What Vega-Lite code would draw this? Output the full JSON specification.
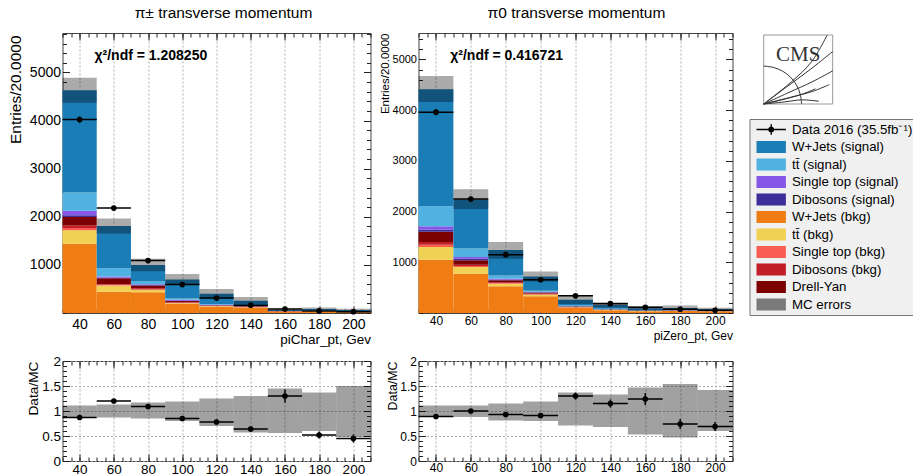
{
"$schema":"https://vega.github.io/schema/vega-lite/v6.json",
"padding":{"left":7.5,"top":5,"right":0,"bottom":0},
"background":"white",
"config":{
 "font":"Liberation Sans",
 "view":{"stroke":"#444","strokeWidth":1},
 "axis":{"domain":false,"tickColor":"#222","tickSize":-7,"labelColor":"#000","titleColor":"#000","titleFontWeight":"normal","gridColor":"#999","gridDash":[2,2],"gridWidth":0.8,"labelFlush":false,"labelOverlap":false,"labelFont":"Liberation Sans","titleFont":"Liberation Sans"},
 "legend":{"orient":"none","legendX":687,"legendY":86,"symbolSize":196,"labelFontSize":13.3,"labelFont":"Liberation Sans","labelColor":"#000","rowPadding":3.5,"padding":3.5,"fillColor":"#f0f0f0","strokeColor":"#777","labelLimit":300,"labelOffset":25,"symbolStrokeWidth":0,"symbolOpacity":1}
},
"datasets":{
 "procs":[{"k":"wjb","proc":"W+Jets (bkg)","ord":1},{"k":"ttb","proc":"tt\u0304 (bkg)","ord":2},{"k":"stb","proc":"Single top (bkg)","ord":3},{"k":"dibb","proc":"Dibosons (bkg)","ord":4},{"k":"dy","proc":"Drell-Yan","ord":5},{"k":"dibs","proc":"Dibosons (signal)","ord":6},{"k":"sts","proc":"Single top (signal)","ord":7},{"k":"tts","proc":"tt\u0304 (signal)","ord":8},{"k":"wjs","proc":"W+Jets (signal)","ord":9}],
 "mcL":[
  {"lo":30,"hi":50,"wjb":1440,"ttb":278,"stb":50,"dibb":55,"dy":175,"dibs":35,"sts":90,"tts":382,"wjs":2127},
  {"lo":50,"hi":70,"wjb":440,"ttb":130,"stb":15,"dibb":20,"dy":115,"dibs":15,"sts":25,"tts":170,"wjs":880},
  {"lo":70,"hi":90,"wjb":430,"ttb":50,"stb":15,"dibb":20,"dy":55,"dibs":10,"sts":20,"tts":55,"wjs":345},
  {"lo":90,"hi":110,"wjb":190,"ttb":15,"stb":10,"dibb":10,"dy":25,"dibs":10,"sts":15,"tts":25,"wjs":395},
  {"lo":110,"hi":130,"wjb":130,"ttb":10,"stb":5,"dibb":5,"dy":10,"dibs":3,"sts":7,"tts":10,"wjs":220},
  {"lo":130,"hi":150,"wjb":110,"ttb":8,"stb":4,"dibb":5,"dy":12,"dibs":2,"sts":4,"tts":10,"wjs":100},
  {"lo":150,"hi":170,"wjb":30,"ttb":3,"stb":1,"dibb":2,"dy":3,"dibs":1,"sts":1,"tts":3,"wjs":20},
  {"lo":170,"hi":190,"wjb":35,"ttb":4,"stb":2,"dibb":2,"dy":4,"dibs":1,"sts":2,"tts":5,"wjs":30},
  {"lo":190,"hi":210,"wjb":28,"ttb":3,"stb":1,"dibb":2,"dy":3,"dibs":1,"sts":1,"tts":3,"wjs":20}
 ],
 "mcR":[
  {"lo":30,"hi":50,"wjb":1050,"ttb":250,"stb":45,"dibb":55,"dy":200,"dibs":40,"sts":70,"tts":395,"wjs":2305},
  {"lo":50,"hi":70,"wjb":775,"ttb":130,"stb":20,"dibb":25,"dy":90,"dibs":30,"sts":35,"tts":165,"wjs":970},
  {"lo":70,"hi":90,"wjb":525,"ttb":50,"stb":15,"dibb":15,"dy":40,"dibs":15,"sts":20,"tts":60,"wjs":500},
  {"lo":90,"hi":110,"wjb":330,"ttb":30,"stb":10,"dibb":15,"dy":20,"dibs":5,"sts":10,"tts":20,"wjs":280},
  {"lo":110,"hi":130,"wjb":100,"ttb":10,"stb":5,"dibb":5,"dy":8,"dibs":3,"sts":4,"tts":15,"wjs":110},
  {"lo":130,"hi":150,"wjb":55,"ttb":5,"stb":2,"dibb":3,"dy":5,"dibs":2,"sts":3,"tts":10,"wjs":75},
  {"lo":150,"hi":170,"wjb":35,"ttb":3,"stb":1,"dibb":2,"dy":3,"dibs":1,"sts":2,"tts":5,"wjs":40},
  {"lo":170,"hi":190,"wjb":40,"ttb":3,"stb":2,"dibb":2,"dy":3,"dibs":1,"sts":2,"tts":5,"wjs":42},
  {"lo":190,"hi":210,"wjb":30,"ttb":3,"stb":1,"dibb":1,"dy":3,"dibs":1,"sts":1,"tts":4,"wjs":31}
 ],
 "ptsL":[
  {"lo":30,"hi":50,"c":40,"n":4020,"nlo":3957,"nhi":4083,"mclo":4370,"mchi":4890,"r":0.87,"rlo":0.855,"rhi":0.885,"blo":0.88,"bhi":1.11},
  {"lo":50,"hi":70,"c":60,"n":2180,"nlo":2133,"nhi":2227,"mclo":1650,"mchi":1965,"r":1.2,"rlo":1.17,"rhi":1.23,"blo":0.87,"bhi":1.13},
  {"lo":70,"hi":90,"c":80,"n":1090,"nlo":1057,"nhi":1123,"mclo":870,"mchi":1130,"r":1.09,"rlo":1.055,"rhi":1.125,"blo":0.85,"bhi":1.17},
  {"lo":90,"hi":110,"c":100,"n":590,"nlo":566,"nhi":614,"mclo":580,"mchi":810,"r":0.85,"rlo":0.815,"rhi":0.885,"blo":0.8,"bhi":1.19},
  {"lo":110,"hi":130,"c":120,"n":310,"nlo":292,"nhi":328,"mclo":300,"mchi":500,"r":0.78,"rlo":0.735,"rhi":0.825,"blo":0.7,"bhi":1.25},
  {"lo":130,"hi":150,"c":140,"n":163,"nlo":150,"nhi":176,"mclo":180,"mchi":330,"r":0.64,"rlo":0.59,"rhi":0.69,"blo":0.57,"bhi":1.3},
  {"lo":150,"hi":170,"c":160,"n":83,"nlo":74,"nhi":92,"mclo":40,"mchi":90,"r":1.3,"rlo":1.17,"rhi":1.43,"blo":0.56,"bhi":1.45},
  {"lo":170,"hi":190,"c":180,"n":44,"nlo":38,"nhi":50,"mclo":55,"mchi":115,"r":0.52,"rlo":0.45,"rhi":0.59,"blo":0.6,"bhi":1.37},
  {"lo":190,"hi":210,"c":200,"n":28,"nlo":23,"nhi":33,"mclo":35,"mchi":90,"r":0.45,"rlo":0.37,"rhi":0.53,"blo":0.48,"bhi":1.5}
 ],
 "ptsR":[
  {"lo":30,"hi":50,"c":40,"n":3960,"nlo":3897,"nhi":4023,"mclo":4160,"mchi":4670,"r":0.89,"rlo":0.875,"rhi":0.905,"blo":0.88,"bhi":1.11},
  {"lo":50,"hi":70,"c":60,"n":2245,"nlo":2198,"nhi":2292,"mclo":2050,"mchi":2440,"r":1.0,"rlo":0.975,"rhi":1.025,"blo":0.88,"bhi":1.11},
  {"lo":70,"hi":90,"c":80,"n":1150,"nlo":1116,"nhi":1184,"mclo":1070,"mchi":1400,"r":0.93,"rlo":0.9,"rhi":0.96,"blo":0.81,"bhi":1.15},
  {"lo":90,"hi":110,"c":100,"n":655,"nlo":630,"nhi":680,"mclo":620,"mchi":820,"r":0.91,"rlo":0.875,"rhi":0.945,"blo":0.8,"bhi":1.19},
  {"lo":110,"hi":130,"c":120,"n":338,"nlo":320,"nhi":356,"mclo":175,"mchi":345,"r":1.3,"rlo":1.23,"rhi":1.37,"blo":0.71,"bhi":1.37},
  {"lo":130,"hi":150,"c":140,"n":184,"nlo":170,"nhi":198,"mclo":110,"mchi":210,"r":1.15,"rlo":1.07,"rhi":1.23,"blo":0.68,"bhi":1.33},
  {"lo":150,"hi":170,"c":160,"n":114,"nlo":103,"nhi":125,"mclo":50,"mchi":135,"r":1.24,"rlo":1.12,"rhi":1.36,"blo":0.53,"bhi":1.47},
  {"lo":170,"hi":190,"c":180,"n":74,"nlo":65,"nhi":83,"mclo":50,"mchi":150,"r":0.74,"rlo":0.64,"rhi":0.84,"blo":0.47,"bhi":1.54},
  {"lo":190,"hi":210,"c":200,"n":52,"nlo":45,"nhi":59,"mclo":45,"mchi":105,"r":0.69,"rlo":0.6,"rhi":0.78,"blo":0.6,"bhi":1.42}
 ],
 "chiL":[{"x":48.7,"y":5342,"t":"\u03c7\u00b2/ndf = 1.208250"}],
 "chiR":[{"x":48.2,"y":5073,"t":"\u03c7\u00b2/ndf = 0.416721"}],
 "logoBox":[{"x0":0,"x1":100,"y0":0,"y1":100}],
 "logoText":[{"x":50,"y":71,"t":"CMS"}],
 "logoTracks":[
  {"t":1,"i":0,"x":0,"y":0},{"t":1,"i":1,"x":35,"y":26},{"t":1,"i":2,"x":70,"y":52},{"t":1,"i":3,"x":100,"y":76},
  {"t":2,"i":0,"x":0,"y":0},{"t":2,"i":1,"x":35,"y":16},{"t":2,"i":2,"x":70,"y":32},{"t":2,"i":3,"x":100,"y":48},
  {"t":3,"i":0,"x":0,"y":0},{"t":3,"i":1,"x":40,"y":10},{"t":3,"i":2,"x":70,"y":18},{"t":3,"i":3,"x":95,"y":28},
  {"t":4,"i":0,"x":0,"y":0},{"t":4,"i":1,"x":30,"y":7},{"t":4,"i":2,"x":55,"y":14},{"t":4,"i":3,"x":75,"y":22},
  {"t":5,"i":0,"x":0,"y":0},{"t":5,"i":1,"x":30,"y":3},{"t":5,"i":2,"x":55,"y":6},{"t":5,"i":3,"x":80,"y":4},
  {"t":6,"i":0,"x":0,"y":0},{"t":6,"i":1,"x":40,"y":32},{"t":6,"i":2,"x":70,"y":62},{"t":6,"i":3,"x":92,"y":100},
  {"t":7,"i":0,"x":0,"y":55},{"t":7,"i":1,"x":14,"y":53},{"t":7,"i":2,"x":27.5,"y":47.6},{"t":7,"i":3,"x":38.9,"y":38.9},{"t":7,"i":4,"x":47.6,"y":27.5},{"t":7,"i":5,"x":53,"y":14},{"t":7,"i":6,"x":55,"y":0}
 ]
},
"columns":2,
"spacing":{"row":48,"column":48},
"bounds":"flush",
"concat":[
  {"width":308,"height":280,
   "title":{"text":"\u03c0\u00b1 transverse momentum","fontSize":15.5,"fontWeight":"normal","font":"Liberation Sans","color":"#000","anchor":"middle","frame":"group","offset":11,"dx":7},
   "resolve":{"axis":{"x":"independent","y":"independent"}},
   "layer":[
    {"layer":[
    {"data":{"name":"mcL"},
     "transform":[{"fold":["wjb","ttb","stb","dibb","dy","dibs","sts","tts","wjs"],"as":["k","n"]},{"lookup":"k","from":{"data":{"name":"procs"},"key":"k","fields":["proc","ord"]}},{"stack":"n","groupby":["lo"],"sort":[{"field":"ord","order":"ascending"}],"as":["y0","y1"]}],
     "mark":{"type":"rect"},
     "encoding":{
      "x":{"field":"lo","type":"quantitative","title":"piChar_pt, Gev","scale":{"domain":[30,210],"nice":false,"zero":false},"axis":{"values":[40,60,80,100,120,140,160,180,200],"tickCount":100,"labelOverlap":false,"labelFontSize":14,"labelPadding":11,"grid":true,"titleFontSize":13.5,"titleAnchor":"end","titleAlign":"right","titleX":308,"titleY":26,"titleBaseline":"middle"}},
      "x2":{"field":"hi"},
      "y":{"field":"y0","type":"quantitative","title":"Entries/20.0000","scale":{"domain":[0,5820],"nice":false,"zero":false},"axis":{"values":[1000,2000,3000,4000,5000],"tickCount":100,"format":"d","labelOverlap":false,"labelFontSize":14,"labelPadding":9,"grid":false,"titleFontSize":15.5,"titleAngle":270,"titleX":-39,"titleY":2,"titleAlign":"right","titleBaseline":"bottom"}},
      "y2":{"field":"y1"},
      "fill":{"field":"proc","type":"nominal","scale":{"domain":["Data 2016 (35.5fb\u207b\u00b9)","W+Jets (signal)","tt\u0304 (signal)","Single top (signal)","Dibosons (signal)","W+Jets (bkg)","tt\u0304 (bkg)","Single top (bkg)","Dibosons (bkg)","Drell-Yan","MC errors"],"range":["#000000","#1a7db6","#50b2e0","#8656e6","#3d2f9a","#ef7d14","#f0d153","#fa5e52","#c01e28","#7c0000","#7a7a7a"]},"legend":{"title":null}}
     }},
    {"data":{"name":"ptsL"},"mark":{"type":"rect","color":"#000","opacity":0.33},
     "encoding":{"x":{"field":"lo","type":"quantitative","title":"piChar_pt, Gev"},"x2":{"field":"hi"},"y":{"field":"mclo","type":"quantitative","title":"Entries/20.0000"},"y2":{"field":"mchi"}}},
    {"data":{"name":"ptsL"},"mark":{"type":"rule","color":"#000","strokeWidth":1.5},
     "encoding":{"x":{"field":"c","type":"quantitative","title":"piChar_pt, Gev"},"y":{"field":"nlo","type":"quantitative","title":"Entries/20.0000"},"y2":{"field":"nhi"}}},
    {"data":{"name":"ptsL"},"mark":{"type":"rule","color":"#000","strokeWidth":1.5},
     "encoding":{"x":{"field":"lo","type":"quantitative","title":"piChar_pt, Gev"},"x2":{"field":"hi"},"y":{"field":"n","type":"quantitative","title":"Entries/20.0000"}}},
    {"data":{"name":"ptsL"},"mark":{"type":"circle","color":"#000","opacity":1,"size":32},
     "encoding":{"x":{"field":"c","type":"quantitative","title":"piChar_pt, Gev"},"y":{"field":"n","type":"quantitative","title":"Entries/20.0000"}}},
    {"data":{"name":"chiL"},"mark":{"type":"text","align":"left","baseline":"middle","fontSize":14,"fontWeight":"bold","font":"Liberation Sans","color":"#000"},
     "encoding":{"x":{"field":"x","type":"quantitative","title":"piChar_pt, Gev"},"y":{"field":"y","type":"quantitative","title":"Entries/20.0000"},"text":{"field":"t"}}}
    ]},
    {"data":{"name":"ptsL"},"mark":{"type":"point","opacity":0},
     "encoding":{"x":{"field":"c","type":"quantitative","axis":{"orient":"top","values":[40,60,80,100,120,140,160,180,200],"tickCount":100,"labels":false,"grid":false,"title":null,"tickSize":-7}},
                 "y":{"field":"n","type":"quantitative","axis":{"orient":"right","values":[1000,2000,3000,4000,5000],"tickCount":100,"labels":false,"grid":false,"title":null,"tickSize":-7}}}},
    {"data":{"name":"ptsL"},"mark":{"type":"point","opacity":0},
     "encoding":{"x":{"field":"c","type":"quantitative","axis":{"orient":"bottom","values":[30,35,40,45,50,55,60,65,70,75,80,85,90,95,100,105,110,115,120,125,130,135,140,145,150,155,160,165,170,175,180,185,190,195,200,205,210],"tickCount":100,"labels":false,"grid":false,"title":null,"tickSize":-4}},
                 "y":{"field":"n","type":"quantitative","axis":{"orient":"left","values":[0,200,400,600,800,1000,1200,1400,1600,1800,2000,2200,2400,2600,2800,3000,3200,3400,3600,3800,4000,4200,4400,4600,4800,5000,5200,5400,5600,5800],"tickCount":100,"labels":false,"grid":false,"title":null,"tickSize":-4}}}},
    {"data":{"name":"ptsL"},"mark":{"type":"point","opacity":0},
     "encoding":{"x":{"field":"c","type":"quantitative","axis":{"orient":"top","values":[30,35,40,45,50,55,60,65,70,75,80,85,90,95,100,105,110,115,120,125,130,135,140,145,150,155,160,165,170,175,180,185,190,195,200,205,210],"tickCount":100,"labels":false,"grid":false,"title":null,"tickSize":-4}},
                 "y":{"field":"n","type":"quantitative","axis":{"orient":"right","values":[0,200,400,600,800,1000,1200,1400,1600,1800,2000,2200,2400,2600,2800,3000,3200,3400,3600,3800,4000,4200,4400,4600,4800,5000,5200,5400,5600,5800],"tickCount":100,"labels":false,"grid":false,"title":null,"tickSize":-4}}}}
   ]},
  {"width":314,"height":280,
   "title":{"text":"\u03c00 transverse momentum","fontSize":15.5,"fontWeight":"normal","font":"Liberation Sans","color":"#000","anchor":"middle","frame":"group","offset":11,"dx":1},
   "resolve":{"scale":{"x":"independent","y":"independent"}},
   "layer":[
    {"resolve":{"axis":{"x":"independent","y":"independent"}},
     "layer":[
     {"layer":[
     {"data":{"name":"mcR"},
      "transform":[{"fold":["wjb","ttb","stb","dibb","dy","dibs","sts","tts","wjs"],"as":["k","n"]},{"lookup":"k","from":{"data":{"name":"procs"},"key":"k","fields":["proc","ord"]}},{"stack":"n","groupby":["lo"],"sort":[{"field":"ord","order":"ascending"}],"as":["y0","y1"]}],
      "mark":{"type":"rect"},
      "encoding":{
       "x":{"field":"lo","type":"quantitative","title":"piZero_pt, Gev","scale":{"domain":[30,210],"nice":false,"zero":false},"axis":{"values":[40,60,80,100,120,140,160,180,200],"tickCount":100,"labelOverlap":false,"labelFontSize":12,"labelPadding":9.5,"grid":true,"titleFontSize":12,"titleAnchor":"end","titleAlign":"right","titleX":314,"titleY":22.5,"titleBaseline":"middle"}},
       "x2":{"field":"hi"},
       "y":{"field":"y0","type":"quantitative","title":"Entries/20.0000","scale":{"domain":[0,5520],"nice":false,"zero":false},"axis":{"values":[1000,2000,3000,4000,5000],"tickCount":100,"format":"d","labelOverlap":false,"labelFontSize":11,"labelPadding":9,"grid":false,"titleFontSize":11.5,"titleAngle":270,"titleX":-28.5,"titleY":0,"titleAlign":"right","titleBaseline":"bottom"}},
       "y2":{"field":"y1"},
       "fill":{"field":"proc","type":"nominal","scale":{"domain":["Data 2016 (35.5fb\u207b\u00b9)","W+Jets (signal)","tt\u0304 (signal)","Single top (signal)","Dibosons (signal)","W+Jets (bkg)","tt\u0304 (bkg)","Single top (bkg)","Dibosons (bkg)","Drell-Yan","MC errors"],"range":["#000000","#1a7db6","#50b2e0","#8656e6","#3d2f9a","#ef7d14","#f0d153","#fa5e52","#c01e28","#7c0000","#7a7a7a"]},"legend":{"title":null}}
      }},
     {"data":{"name":"procs"},"mark":{"type":"point","filled":true,"size":196,"clip":true,"opacity":1},
      "encoding":{
       "x":{"datum":30,"type":"quantitative"},
       "y":{"datum":-3000,"type":"quantitative"},
       "shape":{"field":"proc","type":"nominal","scale":{"domain":["Data 2016 (35.5fb\u207b\u00b9)","W+Jets (signal)","tt\u0304 (signal)","Single top (signal)","Dibosons (signal)","W+Jets (bkg)","tt\u0304 (bkg)","Single top (bkg)","Dibosons (bkg)","Drell-Yan","MC errors"],"range":["M-0.5,-0.1H1.17V0.1H-0.5Z M2.03,-0.1H3.7V0.1H2.03Z M1.17,0A0.43,0.43 0 1,1 2.03,0A0.43,0.43 0 1,1 1.17,0Z M1.5,-0.75H1.7V-0.43H1.5Z M1.5,0.43H1.7V0.75H1.5Z","M-0.5,-0.86H3.7V0.86H-0.5Z","M-0.5,-0.86H3.7V0.86H-0.5Z","M-0.5,-0.86H3.7V0.86H-0.5Z","M-0.5,-0.86H3.7V0.86H-0.5Z","M-0.5,-0.86H3.7V0.86H-0.5Z","M-0.5,-0.86H3.7V0.86H-0.5Z","M-0.5,-0.86H3.7V0.86H-0.5Z","M-0.5,-0.86H3.7V0.86H-0.5Z","M-0.5,-0.86H3.7V0.86H-0.5Z","M-0.5,-0.86H3.7V0.86H-0.5Z"]},"legend":{"title":null}},
       "fill":{"field":"proc","type":"nominal","scale":{"domain":["Data 2016 (35.5fb\u207b\u00b9)","W+Jets (signal)","tt\u0304 (signal)","Single top (signal)","Dibosons (signal)","W+Jets (bkg)","tt\u0304 (bkg)","Single top (bkg)","Dibosons (bkg)","Drell-Yan","MC errors"],"range":["#000000","#1a7db6","#50b2e0","#8656e6","#3d2f9a","#ef7d14","#f0d153","#fa5e52","#c01e28","#7c0000","#7a7a7a"]},"legend":{"title":null}}
      }},
     {"data":{"name":"ptsR"},"mark":{"type":"rect","color":"#000","opacity":0.33},
      "encoding":{"x":{"field":"lo","type":"quantitative","title":"piZero_pt, Gev"},"x2":{"field":"hi"},"y":{"field":"mclo","type":"quantitative","title":"Entries/20.0000"},"y2":{"field":"mchi"}}},
     {"data":{"name":"ptsR"},"mark":{"type":"rule","color":"#000","strokeWidth":1.5},
      "encoding":{"x":{"field":"c","type":"quantitative","title":"piZero_pt, Gev"},"y":{"field":"nlo","type":"quantitative","title":"Entries/20.0000"},"y2":{"field":"nhi"}}},
     {"data":{"name":"ptsR"},"mark":{"type":"rule","color":"#000","strokeWidth":1.5},
      "encoding":{"x":{"field":"lo","type":"quantitative","title":"piZero_pt, Gev"},"x2":{"field":"hi"},"y":{"field":"n","type":"quantitative","title":"Entries/20.0000"}}},
     {"data":{"name":"ptsR"},"mark":{"type":"circle","color":"#000","opacity":1,"size":32},
      "encoding":{"x":{"field":"c","type":"quantitative","title":"piZero_pt, Gev"},"y":{"field":"n","type":"quantitative","title":"Entries/20.0000"}}},
     {"data":{"name":"chiR"},"mark":{"type":"text","align":"left","baseline":"middle","fontSize":14,"fontWeight":"bold","font":"Liberation Sans","color":"#000"},
      "encoding":{"x":{"field":"x","type":"quantitative","title":"piZero_pt, Gev"},"y":{"field":"y","type":"quantitative","title":"Entries/20.0000"},"text":{"field":"t"}}}
     ]},
     {"data":{"name":"ptsR"},"mark":{"type":"point","opacity":0},
      "encoding":{"x":{"field":"c","type":"quantitative","axis":{"orient":"top","values":[40,60,80,100,120,140,160,180,200],"tickCount":100,"labels":false,"grid":false,"title":null,"tickSize":-7}},
                  "y":{"field":"n","type":"quantitative","axis":{"orient":"right","values":[1000,2000,3000,4000,5000],"tickCount":100,"labels":false,"grid":false,"title":null,"tickSize":-7}}}},
     {"data":{"name":"ptsR"},"mark":{"type":"point","opacity":0},
      "encoding":{"x":{"field":"c","type":"quantitative","axis":{"orient":"bottom","values":[30,35,40,45,50,55,60,65,70,75,80,85,90,95,100,105,110,115,120,125,130,135,140,145,150,155,160,165,170,175,180,185,190,195,200,205,210],"tickCount":100,"labels":false,"grid":false,"title":null,"tickSize":-4}},
                  "y":{"field":"n","type":"quantitative","axis":{"orient":"left","values":[0,200,400,600,800,1000,1200,1400,1600,1800,2000,2200,2400,2600,2800,3000,3200,3400,3600,3800,4000,4200,4400,4600,4800,5000,5200,5400],"tickCount":100,"labels":false,"grid":false,"title":null,"tickSize":-4}}}},
     {"data":{"name":"ptsR"},"mark":{"type":"point","opacity":0},
      "encoding":{"x":{"field":"c","type":"quantitative","axis":{"orient":"top","values":[30,35,40,45,50,55,60,65,70,75,80,85,90,95,100,105,110,115,120,125,130,135,140,145,150,155,160,165,170,175,180,185,190,195,200,205,210],"tickCount":100,"labels":false,"grid":false,"title":null,"tickSize":-4}},
                  "y":{"field":"n","type":"quantitative","axis":{"orient":"right","values":[0,200,400,600,800,1000,1200,1400,1600,1800,2000,2200,2400,2600,2800,3000,3200,3400,3600,3800,4000,4200,4400,4600,4800,5000,5200,5400],"tickCount":100,"labels":false,"grid":false,"title":null,"tickSize":-4}}}}
    ]},
    {"layer":[
     {"data":{"name":"logoBox"},"mark":{"type":"rect","fill":"#ffffff","stroke":"#999","strokeWidth":1,"clip":false},
      "encoding":{"x":{"field":"x0","type":"quantitative","scale":{"domain":[-500.3,-45.2],"nice":false,"zero":false},"axis":null},"x2":{"field":"x1"},"y":{"field":"y0","type":"quantitative","scale":{"domain":[-302.9,102.9],"nice":false,"zero":false},"axis":null},"y2":{"field":"y1"}}},
     {"data":{"name":"logoTracks"},"mark":{"type":"line","color":"#333","strokeWidth":1,"interpolate":"cardinal","clip":false},
      "encoding":{"x":{"field":"x","type":"quantitative","scale":{"domain":[-500.3,-45.2],"nice":false,"zero":false},"axis":null},"y":{"field":"y","type":"quantitative","scale":{"domain":[-302.9,102.9],"nice":false,"zero":false},"axis":null},"detail":{"field":"t"},"order":{"field":"i"}}},
     {"data":{"name":"logoText"},"mark":{"type":"text","font":"Liberation Serif","fontSize":21,"color":"#333","align":"center","baseline":"middle","clip":false},
      "encoding":{"x":{"field":"x","type":"quantitative","scale":{"domain":[-500.3,-45.2],"nice":false,"zero":false},"axis":null},"y":{"field":"y","type":"quantitative","scale":{"domain":[-302.9,102.9],"nice":false,"zero":false},"axis":null},"text":{"field":"t"}}}
    ]}
   ]},
  {"width":308,"height":100,
   "resolve":{"axis":{"x":"independent","y":"independent"}},
   "layer":[
    {"layer":[
    {"data":{"name":"ptsL"},"mark":{"type":"rect","color":"#000","opacity":0.37},
     "encoding":{
      "x":{"field":"lo","type":"quantitative","title":null,"scale":{"domain":[30,210],"nice":false,"zero":false},"axis":{"values":[40,60,80,100,120,140,160,180,200],"tickCount":100,"labelOverlap":false,"labelFontSize":13.5,"labelPadding":8,"grid":true}},
      "x2":{"field":"hi"},
      "y":{"field":"blo","type":"quantitative","title":"Data/MC","scale":{"domain":[0,2],"nice":false,"zero":false},"axis":{"values":[0,0.5,1,1.5,2],"tickCount":100,"format":"~g","labelOverlap":false,"labelFontSize":13.5,"labelPadding":9,"grid":true,"titleFontSize":13.7,"titleAngle":270,"titleX":-22.5,"titleY":0,"titleAlign":"right","titleBaseline":"bottom"}},
      "y2":{"field":"bhi"}}},
    {"data":{"name":"ptsL"},"mark":{"type":"rule","color":"#000","strokeWidth":1.5},
     "encoding":{"x":{"field":"c","type":"quantitative","title":null},"y":{"field":"rlo","type":"quantitative","title":"Data/MC"},"y2":{"field":"rhi"}}},
    {"data":{"name":"ptsL"},"mark":{"type":"rule","color":"#000","strokeWidth":1.5},
     "encoding":{"x":{"field":"lo","type":"quantitative","title":null},"x2":{"field":"hi"},"y":{"field":"r","type":"quantitative","title":"Data/MC"}}},
    {"data":{"name":"ptsL"},"mark":{"type":"circle","color":"#000","opacity":1,"size":32},
     "encoding":{"x":{"field":"c","type":"quantitative","title":null},"y":{"field":"r","type":"quantitative","title":"Data/MC"}}}
    ]},
    {"data":{"name":"ptsL"},"mark":{"type":"point","opacity":0},
     "encoding":{"x":{"field":"c","type":"quantitative","axis":{"orient":"top","values":[40,60,80,100,120,140,160,180,200],"tickCount":100,"labels":false,"grid":false,"title":null,"tickSize":-7}},
                 "y":{"field":"r","type":"quantitative","axis":{"orient":"right","values":[0,0.5,1,1.5,2],"tickCount":100,"labels":false,"grid":false,"title":null,"tickSize":-7}}}},
    {"data":{"name":"ptsL"},"mark":{"type":"point","opacity":0},
     "encoding":{"x":{"field":"c","type":"quantitative","axis":{"orient":"bottom","values":[30,35,40,45,50,55,60,65,70,75,80,85,90,95,100,105,110,115,120,125,130,135,140,145,150,155,160,165,170,175,180,185,190,195,200,205,210],"tickCount":100,"labels":false,"grid":false,"title":null,"tickSize":-4}},
                 "y":{"field":"r","type":"quantitative","axis":{"orient":"left","values":[0,0.1,0.2,0.3,0.4,0.5,0.6,0.7,0.8,0.9,1,1.1,1.2,1.3,1.4,1.5,1.6,1.7,1.8,1.9,2],"tickCount":100,"labels":false,"grid":false,"title":null,"tickSize":-4}}}},
    {"data":{"name":"ptsL"},"mark":{"type":"point","opacity":0},
     "encoding":{"x":{"field":"c","type":"quantitative","axis":{"orient":"top","values":[30,35,40,45,50,55,60,65,70,75,80,85,90,95,100,105,110,115,120,125,130,135,140,145,150,155,160,165,170,175,180,185,190,195,200,205,210],"tickCount":100,"labels":false,"grid":false,"title":null,"tickSize":-4}},
                 "y":{"field":"r","type":"quantitative","axis":{"orient":"right","values":[0,0.1,0.2,0.3,0.4,0.5,0.6,0.7,0.8,0.9,1,1.1,1.2,1.3,1.4,1.5,1.6,1.7,1.8,1.9,2],"tickCount":100,"labels":false,"grid":false,"title":null,"tickSize":-4}}}}
   ]},
  {"width":314,"height":100,
   "resolve":{"axis":{"x":"independent","y":"independent"}},
   "layer":[
    {"layer":[
    {"data":{"name":"ptsR"},"mark":{"type":"rect","color":"#000","opacity":0.37},
     "encoding":{
      "x":{"field":"lo","type":"quantitative","title":null,"scale":{"domain":[30,210],"nice":false,"zero":false},"axis":{"values":[40,60,80,100,120,140,160,180,200],"tickCount":100,"labelOverlap":false,"labelFontSize":12,"labelPadding":8,"grid":true}},
      "x2":{"field":"hi"},
      "y":{"field":"blo","type":"quantitative","title":"Data/MC","scale":{"domain":[0,2],"nice":false,"zero":false},"axis":{"values":[0,0.5,1,1.5,2],"tickCount":100,"format":"~g","labelOverlap":false,"labelFontSize":12,"labelPadding":9,"grid":true,"titleFontSize":12.4,"titleAngle":270,"titleX":-19.5,"titleY":0,"titleAlign":"right","titleBaseline":"bottom"}},
      "y2":{"field":"bhi"}}},
    {"data":{"name":"ptsR"},"mark":{"type":"rule","color":"#000","strokeWidth":1.5},
     "encoding":{"x":{"field":"c","type":"quantitative","title":null},"y":{"field":"rlo","type":"quantitative","title":"Data/MC"},"y2":{"field":"rhi"}}},
    {"data":{"name":"ptsR"},"mark":{"type":"rule","color":"#000","strokeWidth":1.5},
     "encoding":{"x":{"field":"lo","type":"quantitative","title":null},"x2":{"field":"hi"},"y":{"field":"r","type":"quantitative","title":"Data/MC"}}},
    {"data":{"name":"ptsR"},"mark":{"type":"circle","color":"#000","opacity":1,"size":32},
     "encoding":{"x":{"field":"c","type":"quantitative","title":null},"y":{"field":"r","type":"quantitative","title":"Data/MC"}}}
    ]},
    {"data":{"name":"ptsR"},"mark":{"type":"point","opacity":0},
     "encoding":{"x":{"field":"c","type":"quantitative","axis":{"orient":"top","values":[40,60,80,100,120,140,160,180,200],"tickCount":100,"labels":false,"grid":false,"title":null,"tickSize":-7}},
                 "y":{"field":"r","type":"quantitative","axis":{"orient":"right","values":[0,0.5,1,1.5,2],"tickCount":100,"labels":false,"grid":false,"title":null,"tickSize":-7}}}},
    {"data":{"name":"ptsR"},"mark":{"type":"point","opacity":0},
     "encoding":{"x":{"field":"c","type":"quantitative","axis":{"orient":"bottom","values":[30,35,40,45,50,55,60,65,70,75,80,85,90,95,100,105,110,115,120,125,130,135,140,145,150,155,160,165,170,175,180,185,190,195,200,205,210],"tickCount":100,"labels":false,"grid":false,"title":null,"tickSize":-4}},
                 "y":{"field":"r","type":"quantitative","axis":{"orient":"left","values":[0,0.1,0.2,0.3,0.4,0.5,0.6,0.7,0.8,0.9,1,1.1,1.2,1.3,1.4,1.5,1.6,1.7,1.8,1.9,2],"tickCount":100,"labels":false,"grid":false,"title":null,"tickSize":-4}}}},
    {"data":{"name":"ptsR"},"mark":{"type":"point","opacity":0},
     "encoding":{"x":{"field":"c","type":"quantitative","axis":{"orient":"top","values":[30,35,40,45,50,55,60,65,70,75,80,85,90,95,100,105,110,115,120,125,130,135,140,145,150,155,160,165,170,175,180,185,190,195,200,205,210],"tickCount":100,"labels":false,"grid":false,"title":null,"tickSize":-4}},
                 "y":{"field":"r","type":"quantitative","axis":{"orient":"right","values":[0,0.1,0.2,0.3,0.4,0.5,0.6,0.7,0.8,0.9,1,1.1,1.2,1.3,1.4,1.5,1.6,1.7,1.8,1.9,2],"tickCount":100,"labels":false,"grid":false,"title":null,"tickSize":-4}}}}
   ]}
]
}
